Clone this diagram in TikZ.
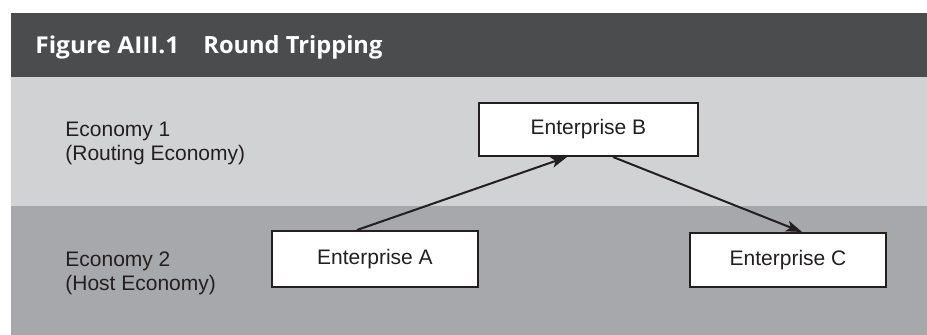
\documentclass[tikz,border=0pt]{standalone}
\usepackage{fontspec}
\setmainfont{Liberation Sans}
\newfontfamily\titlefont{Open Sans}
\usetikzlibrary{arrows.meta}
\definecolor{hdr}{HTML}{4B4C4E}
\definecolor{lightband}{HTML}{D1D2D4}
\definecolor{darkband}{HTML}{A7A8AB}
\definecolor{ink}{HTML}{231F20}
\begin{document}
\begin{tikzpicture}[x=0.5pt,y=-0.5pt,
  entbox/.style={draw=ink,line width=1pt,fill=white,inner sep=0pt,
    font=\fontsize{10.5}{12}\selectfont,text=ink},
  lbl/.style={anchor=base west,inner sep=0pt,
    font=\fontsize{10.5}{12}\selectfont,text=ink},
  ttl/.style={anchor=base west,inner sep=0pt,text=white},
  flow/.style={draw=ink,line width=1pt,
    -{Stealth[length=8pt,width=5.5pt,inset=2pt]}}]
\useasboundingbox (0,0) rectangle (927,335);
% bands
\fill[hdr] (11,13) rectangle (927,77);
\fill[lightband] (11,77) rectangle (927,206);
\fill[darkband] (11,206) rectangle (927,335);
% title
\node[ttl] (t1) at (35,54) {\resizebox{72pt}{8.8pt}{\titlefont\fontsize{12}{14}\selectfont\bfseries Figure AIII.1}};
\node[ttl] (t2) at (203,54) {\resizebox{89.5pt}{9pt}{\titlefont\fontsize{12}{14}\selectfont\bfseries Round Tripping}};
% economy labels
\node[lbl] (e1a) at (65,137) {Economy 1};
\node[lbl] (e1b) at (65,161) {(Routing Economy)};
\node[lbl] (e2a) at (65,267) {Economy 2};
\node[lbl] (e2b) at (65,291) {(Host Economy)};
% enterprises
\node[entbox,minimum width=103pt,minimum height=28pt] (A) at (375,259) {Enterprise A};
\node[entbox,minimum width=109.5pt,minimum height=26.5pt] (B) at (588.5,129.5) {Enterprise B};
\node[entbox,minimum width=98pt,minimum height=27pt] (C) at (788,260) {Enterprise C};
% flows
\draw[flow] ([xshift=-9pt]A.north) -- ([xshift=-10.75pt]B.south);
\draw[flow] ([xshift=12.25pt]B.south) -- ([xshift=7pt]C.north);
\end{tikzpicture}
\end{document}
